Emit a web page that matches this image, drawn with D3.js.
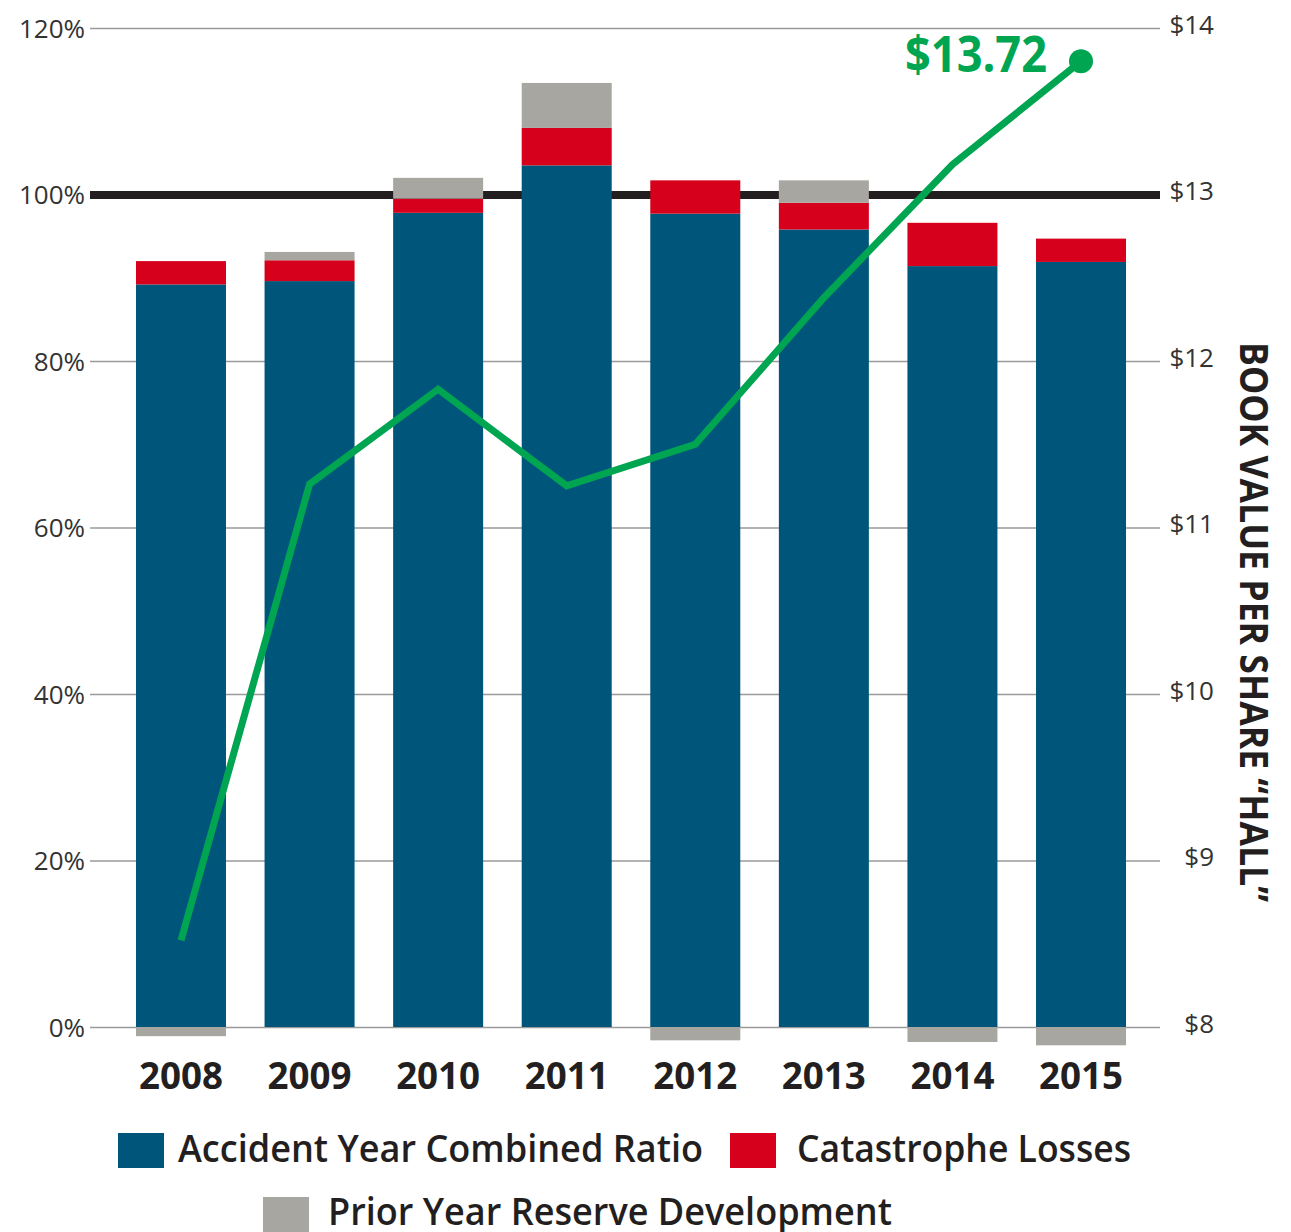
<!DOCTYPE html>
<html>
<head>
<meta charset="utf-8">
<script src="https://cdn.jsdelivr.net/npm/d3@7"></script>
<style>
  body { margin: 0; background: #fff; }
  svg { display: block; font-family: "Open Sans", sans-serif; }
</style>
</head>
<body>
<div id="chart"></div>
<script>
// values
var years = ["2008", "2009", "2010", "2011", "2012", "2013", "2014", "2015"];
var accidentYear = [89.2, 89.6, 97.8, 103.5, 97.7, 95.8, 91.4, 91.9];
var catLosses = [2.8, 2.5, 1.7, 4.5, 4.0, 3.2, 5.2, 2.8];
var priorYear = [-1.1, 1.0, 2.5, 5.4, -1.6, 2.7, -1.8, -2.2];
var bookValue = [8.52, 11.26, 11.83, 11.25, 11.50, 12.38, 13.18, 13.80];

var pctTicks = [0, 20, 40, 60, 80, 100, 120];
var dollarTicks = [8, 9, 10, 11, 12, 13, 14];
var latestLabel = "$13.72";
var rightTitle = "BOOK VALUE PER SHARE \u201CHALL\u201D";

var series = [
  { key: "accident", label: "Accident Year Combined Ratio", color: "#00567a", values: accidentYear },
  { key: "cat", label: "Catastrophe Losses", color: "#d6001c", values: catLosses },
  { key: "prior", label: "Prior Year Reserve Development", color: "#a7a6a1", values: priorYear }
];

var width = 1291;
var height = 1232;
var plotLeft = 90, plotRight = 1160, plotTop = 28, plotBottom = 1027;

var svg = d3.select("#chart").append("svg")
  .attr("width", width)
  .attr("height", height);

var x = d3.scaleBand()
  .domain(years)
  .range([71.7, 1190.3])
  .paddingInner(0.3)
  .paddingOuter(0.5);

var y = d3.scaleLinear().domain([0, 120]).range([plotBottom, plotTop]);
var y2 = d3.scaleLinear().domain([8, 14]).range([plotBottom, plotTop]);

// left axis with gridlines
var yAxis = d3.axisLeft(y)
  .tickValues(pctTicks)
  .tickSize(-(plotRight - plotLeft))
  .tickPadding(5)
  .tickFormat(d => d + "%");

var yAxisG = svg.append("g")
  .attr("transform", "translate(" + plotLeft + ",0)")
  .call(yAxis)
  .attr("font-family", "Open Sans, sans-serif");
yAxisG.select(".domain").remove();
yAxisG.selectAll(".tick line")
  .attr("stroke", "#9a9a9a")
  .attr("stroke-width", 1.5);
yAxisG.selectAll(".tick")
  .filter(d => d === 100)
  .select("line")
  .attr("stroke", "#231f20")
  .attr("stroke-width", 8);
yAxisG.selectAll(".tick text")
  .attr("fill", "#333")
  .style("font-size", "26px")
  .attr("dy", "0.35em");

// right axis labels
var y2Axis = d3.axisRight(y2)
  .tickValues(dollarTicks)
  .tickSize(0)
  .tickFormat(d => "$" + d);

var y2AxisG = svg.append("g")
  .attr("transform", "translate(" + plotRight + ",0)")
  .call(y2Axis)
  .attr("font-family", "Open Sans, sans-serif");
y2AxisG.select(".domain").remove();
y2AxisG.selectAll(".tick text")
  .attr("x", 54)
  .attr("dy", "0.2em")
  .attr("text-anchor", "end")
  .attr("fill", "#333")
  .style("font-size", "26px");

svg.append("text")
  .attr("transform", "translate(1240,622) rotate(90)")
  .attr("text-anchor", "middle")
  .attr("fill", "#231f20")
  .attr("textLength", 560)
  .attr("lengthAdjust", "spacingAndGlyphs")
  .style("font-size", "40px")
  .style("font-weight", "700")
  .text(rightTitle);

// stacked bars
var table = years.map(function(yr, i) {
  var row = { year: yr };
  series.forEach(s => { row[s.key] = s.values[i]; });
  return row;
});

var stack = d3.stack()
  .keys(series.map(s => s.key))
  .offset(d3.stackOffsetDiverging);

var layers = svg.append("g").selectAll("g")
  .data(stack(table))
  .enter().append("g")
  .attr("fill", (d, i) => series[i].color);

layers.selectAll("rect")
  .data(d => d)
  .enter().append("rect")
  .attr("x", d => x(d.data.year))
  .attr("width", x.bandwidth())
  .attr("y", d => y(Math.max(d[0], d[1])))
  .attr("height", d => Math.abs(y(d[0]) - y(d[1])));

// x labels
svg.append("g").selectAll("text")
  .data(years)
  .enter().append("text")
  .attr("x", d => x(d) + x.bandwidth() / 2)
  .attr("y", 1089)
  .attr("text-anchor", "middle")
  .attr("fill", "#231f20")
  .attr("textLength", 84)
  .attr("lengthAdjust", "spacingAndGlyphs")
  .style("font-size", "38px")
  .style("font-weight", "700")
  .text(d => d);

// book value line
var line = d3.line()
  .x((d, i) => x(years[i]) + x.bandwidth() / 2)
  .y(d => y2(d));

svg.append("path")
  .datum(bookValue)
  .attr("fill", "none")
  .attr("stroke", "#00a551")
  .attr("stroke-width", 7)
  .attr("stroke-linejoin", "miter")
  .attr("d", line);

var last = bookValue.length - 1;
svg.append("circle")
  .attr("cx", x(years[last]) + x.bandwidth() / 2)
  .attr("cy", y2(bookValue[last]))
  .attr("r", 12)
  .attr("fill", "#00a551");

svg.append("text")
  .attr("x", 905)
  .attr("y", 72)
  .attr("fill", "#00a551")
  .attr("textLength", 142)
  .attr("lengthAdjust", "spacingAndGlyphs")
  .style("font-size", "50px")
  .style("font-weight", "700")
  .text(latestLabel);

// legend
var legendPos = [
  { x: 118, y: 1133, tx: 178, ty: 1162, tw: 525 },
  { x: 730, y: 1133, tx: 797, ty: 1162, tw: 334 },
  { x: 263, y: 1197, tx: 328, ty: 1225, tw: 564 }
];

var legend = svg.append("g").selectAll("g")
  .data(series)
  .enter().append("g");

legend.append("rect")
  .attr("x", (d, i) => legendPos[i].x)
  .attr("y", (d, i) => legendPos[i].y)
  .attr("width", 46)
  .attr("height", 35)
  .attr("fill", d => d.color);

legend.append("text")
  .attr("x", (d, i) => legendPos[i].tx)
  .attr("y", (d, i) => legendPos[i].ty)
  .attr("fill", "#231f20")
  .attr("textLength", (d, i) => legendPos[i].tw)
  .attr("lengthAdjust", "spacingAndGlyphs")
  .style("font-size", "38px")
  .style("font-weight", "600")
  .text(d => d.label);
</script>
</body>
</html>
